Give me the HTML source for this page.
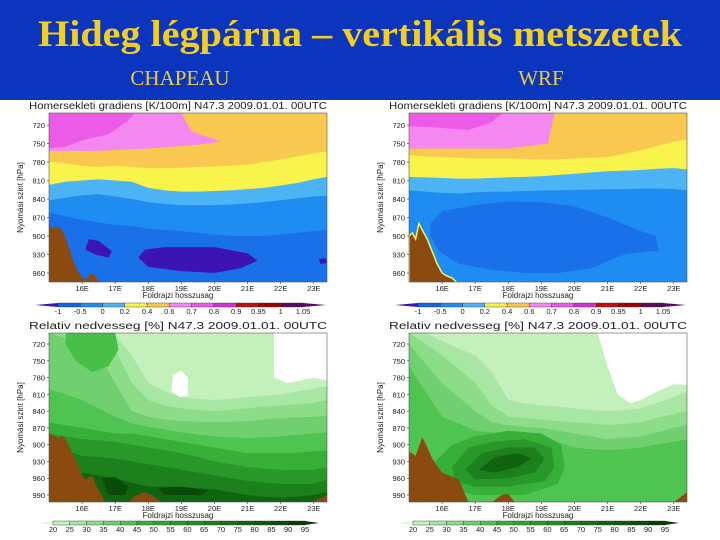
<!DOCTYPE html>
<html><head><meta charset="utf-8"><style>
body{margin:0;width:720px;height:540px;overflow:hidden;background:#fff;font-family:"Liberation Sans",sans-serif}
svg{display:block}
</style></head><body>
<svg id="s" width="720" height="540" xmlns="http://www.w3.org/2000/svg">
<rect x="0" y="0" width="720" height="100" fill="#0b35bd"/>
<text x="360" y="46" text-anchor="middle" font-family="Liberation Serif,serif" font-weight="bold" font-size="37" fill="#f2cf1e" textLength="644" lengthAdjust="spacingAndGlyphs">Hideg légpárna – vertikális metszetek</text>
<text x="180" y="85" text-anchor="middle" font-family="Liberation Serif,serif" font-size="21" fill="#e8cf3a">CHAPEAU</text>
<text x="541" y="85" text-anchor="middle" font-family="Liberation Serif,serif" font-size="21" fill="#e8cf3a">WRF</text>
</svg>
<script>
const lons=[15,15.5,16,16.5,17,17.5,18,18.5,19,19.5,20,20.5,21,21.5,22,22.5,23,23.4];
const tTicks=[720,750,780,810,840,870,900,930,960];
const rTicks=[720,750,780,810,840,870,900,930,960,990];
const lonTicks=["16E","17E","18E","19E","20E","21E","22E","23E"];
const lonTickVals=[16,17,18,19,20,21,22,23];
const tempLabels=["-1","-0.5","0","0.2","0.4","0.6","0.7","0.8","0.9","0.95","1","1.05"];
const rhLabels=["20","25","30","35","40","45","50","55","60","65","70","75","80","85","90","95"];
// CHAPEAU temperature gradient
const c1Yellow=[780,782,786,788,786,788,790,790,789,788,787,786,784,780,776,771,766,763];
const c1LBlue=[817,812,810,808,810,812,822,826,828,828,827,826,824,822,818,814,808,804];
const c1Blue=[842,838,834,832,836,840,845,848,850,850,850,849,847,845,842,839,836,835];
const c1DBlue=[862,868,874,878,882,884,888,890,892,895,898,900,900,900,898,895,892,890];
const c1PinkLon=[15,19.0,19.3,20.2,19.5,18,16.5,15];const c1PinkP=[700,700,730,747,752,758,762,762];
const c1MagLon=[15,17.6,17.4,16.8,16,15.5,15];const c1MagP=[700,700,712,735,745,755,758];
const c1Pur1Lon=[16.2,16.5,16.9,16.8,16.4,16.1];const c1Pur1P=[905,908,925,935,930,922];
const c1Pur2Lon=[17.9,18.5,20,21,21.3,20.8,20,19,18,17.7];const c1Pur2P=[922,918,918,928,940,952,960,957,950,935];
const c1Pur3Lon=[23.15,23.35,23.4,23.2];const c1Pur3P=[938,936,944,945];
const c1TerLon=[15,15.1,15.25,15.4,15.55,15.7,15.85,16.0,16.15,16.25,16.4,16.55,16.7];
const c1TerP=[882,888,885,890,910,935,955,968,970,960,965,978,978];
// WRF temperature gradient
const w1Yellow=[769,771,772,773,774,774,774,775,776,776,774,773,772,767,761,754,747,743];
const w1LBlue=[804,805,806,807,807,806,805,804,803,801,799,797,795,794,793,791,790,792];
const w1Blue=[826,828,830,831,829,828,828,827,826,826,825,825,824,824,823,823,824,826];
const w1PinkLon=[15,19.4,19.2,18,17.2,15];const w1PinkP=[700,700,750,758,758,758];
const w1MagLon=[15,17.85,17.5,16.8,15.8,15];const w1MagP=[700,700,715,728,724,722];
const w1DBLon=[15.65,16,17,18,19,20,21,22,22.45,22.55,22.2,21.5,20.5,19.5,18.5,17.5,16.5,15.9,15.65];
const w1DBP=[880,860,850,844,845,852,870,892,900,925,925,930,952,960,960,955,945,925,900];
const w1TerLon=[15,15.1,15.2,15.3,15.4,15.55,15.7,15.85,16.0,16.15,16.3,16.5];
const w1TerP=[900,895,905,880,890,905,925,945,960,965,968,978];
// CHAPEAU relative humidity
const c2L1=[700,700,700,702,705,740,790,805,815,818,820,818,815,812,810,805,800,795];
const c2L2=[700,702,705,715,730,790,820,830,835,838,840,838,835,832,830,828,825,820];
const c2L3=[700,710,720,740,790,840,850,855,858,859,860,859,858,855,852,851,850,848];
const c2L4=[800,810,820,835,850,862,868,873,878,882,885,887,888,887,885,882,880,878];
const c2L5=[860,865,870,875,880,880,885,890,895,900,905,910,915,915,915,914,912,910];
const c2L6=[880,885,890,892,895,900,905,910,915,922,930,935,940,943,945,945,945,940];
const c2L7=[900,910,920,922,925,930,935,940,945,950,955,960,965,968,970,970,970,962];
const c2L8=[960,955,950,955,960,968,975,975,975,978,980,985,990,993,995,993,990,985];
const c2DLLon=[15.5,17,17.1,16.8,16.3,15.8,15.5];const c2DLP=[700,700,730,760,770,750,720];
const c2D9aLon=[16.6,17.0,17.4,17.3,16.8];const c2D9aP=[960,958,975,990,990];
const c2D9bLon=[18.3,19.0,19.8,19.6,18.5];const c2D9bP=[978,975,982,990,990];
const c2WhiteLon=[21.8,23.4,23.4,23.0,22.2,21.8];const c2WhiteP=[700,700,785,780,790,780];
const c2BlobLon=[18.75,19.0,19.2,19.2,18.95,18.7];const c2BlobP=[775,768,780,812,815,805];
const c2TerLon=[15,15.3,15.4,15.5,15.8,16.0,16.1,16.3,16.5,16.7];
const c2TerP=[880,888,884,890,927,954,962,956,981,1003];
const c2Ter2Lon=[17.4,17.6,17.9,18.1,18.4];const c2Ter2P=[1003,992,985,990,1003];
const c2Ter3Lon=[22.9,23.2,23.4,23.4];const c2Ter3P=[1003,996,990,1003];
// WRF relative humidity
const w2L1=[700,700,715,728,740,770,820,826,830,832,835,838,840,838,835,825,815,805];
const w2L2=[700,720,740,765,790,830,850,852,855,858,860,862,865,863,860,852,845,840];
const w2L3=[720,755,790,815,840,860,865,868,870,875,880,885,890,888,885,878,870,865];
const w2L4=[760,805,850,862,875,878,880,882,885,895,905,908,910,908,905,900,895,890];
const w2WhiteLon=[20.7,23.4,23.4,23,22.5,22,21.7,21.3,21,20.8];const w2WhiteP=[700,700,793,792,805,820,826,810,760,720];
const w2B5Lon=[15.8,16.3,17,18,19,19.6,19.7,19.5,18.5,17,16];const w2B5P=[930,900,885,875,880,900,940,970,990,990,975];
const w2B6Lon=[16.3,16.8,17.5,18.5,19.3,19.4,19.1,18,17,16.4];const w2B6P=[940,905,895,890,905,940,965,975,975,965];
const w2B7Lon=[16.7,17.2,18,18.8,19.1,18.8,18,17];const w2B7P=[945,915,905,905,925,950,960,962];
const w2B8Lon=[17.1,17.6,18.3,18.7,18.3,17.6];const w2B8P=[945,922,915,925,940,950];
const w2TerLon=[15,15.2,15.4,15.5,15.7,16,16.5,16.8];const w2TerP=[912,920,887,898,925,950,962,1003];
const w2Ter2Lon=[17.5,17.8,18,18.2];const w2Ter2P=[1003,990,988,1003];
const w2Ter3Lon=[23,23.4,23.4];const w2Ter3P=[1003,985,1003];

const tempColors=["#3c14b4","#1464e6","#1e8cf0","#4cb4f4","#f8f44c","#f8c850","#f488f0","#ec5ae8","#d830d8","#c01010","#a00000","#5a0a5a","#5a0a5a"];
const rhColors=["#e4f8e0","#c4f0bc","#a8e6a4","#8cdc88","#70d070","#50c450","#38b038","#2ca82c","#289828","#209020","#1c801c","#187018","#106410","#0c5a0c","#0a4a0a","#083a08"];

const S=document.getElementById('s');const NS='http://www.w3.org/2000/svg';
function mk(tag,attrs,parent){const e=document.createElementNS(NS,tag);for(const k in attrs)e.setAttribute(k,attrs[k]);(parent||S).appendChild(e);return e;}
let clipN=0;
function makePanel(P){
  const g=mk('g',{});
  
  
  const xs=l=>P.x0+(l-15)*(P.x1-P.x0)/8.4;
  const ys=p=>P.y0+(p-P.pTop)*(P.y1-P.y0)/(P.pBot-P.pTop);
  const id='c'+(clipN++);
  const cp=mk('clipPath',{id:id},g);mk('rect',{x:P.x0,y:P.y0,width:P.x1-P.x0,height:P.y1-P.y0},cp);
  const pg=mk('g',{'clip-path':'url(#'+id+')'},g);
  const bg=mk('rect',{x:P.x0,y:P.y0,width:P.x1-P.x0,height:P.y1-P.y0,fill:P.bg},pg);
  
  
  P.layers.forEach(L=>{
    let pts;
    if(L.below){pts=lons.map((l,i)=>xs(l)+','+ys(L.below[i]));pts.push(xs(23.6)+','+(P.y1+5));pts.push(xs(14.8)+','+(P.y1+5));pts.unshift(xs(14.8)+','+ys(L.below[0]));pts.push(xs(14.8)+','+ys(L.below[0]));
      pts.splice(lons.length+1,0,xs(23.6)+','+ys(L.below[lons.length-1]));}
    else{pts=L.lon.map((l,i)=>xs(l)+','+ys(L.p[i]));}
    const e=mk('polygon',{points:pts.join(' '),fill:L.c},pg);
    if(L.stroke){e.setAttribute('stroke',L.stroke);e.setAttribute('stroke-width','1.5');}
    
    
  });
  mk('rect',{x:P.x0,y:P.y0,width:P.x1-P.x0,height:P.y1-P.y0,fill:'none',stroke:'#555','stroke-width':0.6},g);
  const t=mk('text',{x:(P.x0+P.x1)/2-10,y:P.y0-4,'text-anchor':'middle','font-size':10,fill:'#222',textLength:P.x1-P.x0+20,lengthAdjust:'spacingAndGlyphs'},g);
  t.textContent=P.title;
  
  
  P.ticks.forEach(v=>{const tt=mk('text',{x:P.x0-4,y:ys(v)+3,'text-anchor':'end','font-size':7.5,fill:'#222'},g);tt.textContent=v;
    
    
    mk('line',{x1:P.x0-2,x2:P.x0,y1:ys(v),y2:ys(v),stroke:'#333','stroke-width':0.6},g);});
  lonTickVals.forEach((v,i)=>{const tt=mk('text',{x:xs(v),y:P.y1+9,'text-anchor':'middle','font-size':7.5,fill:'#222'},g);tt.textContent=lonTicks[i];
    
    
    mk('line',{x1:xs(v),x2:xs(v),y1:P.y1,y2:P.y1+2,stroke:'#333','stroke-width':0.6},g);});
  const xl=mk('text',{x:(P.x0+P.x1)/2-10,y:P.y1+16,'text-anchor':'middle','font-size':8,fill:'#222'},g);xl.textContent='Foldrajzi hosszusag';
  
  
  const cy=(P.y0+P.y1)/2;
  const yl=mk('text',{x:P.x0-26,y:cy,'text-anchor':'middle','font-size':8,fill:'#222',transform:'rotate(-90 '+(P.x0-26)+' '+cy+')'},g);yl.textContent='Nyomási szint [hPa]';
  
  
  // colorbar
  const cb=P.cb;const n=cb.labels.length;const seg=(cb.x1-cb.x0)/(n-1+(cb.extra||0));
  const cg=mk('g',{},g);
  
  
  mk('polygon',{points:(cb.x0-cb.tri)+','+(cb.y+2)+' '+cb.x0+','+cb.y+' '+cb.x0+','+(cb.y+4),fill:cb.colors[0]},cg);
  const nseg=Math.round((cb.x1-cb.x0)/seg);
  for(let i=0;i<nseg;i++){mk('rect',{x:cb.x0+i*seg,y:cb.y,width:seg,height:4,fill:cb.colors[i+1]||cb.colors[cb.colors.length-1],stroke:'#333','stroke-width':0.4},cg);}
  mk('polygon',{points:cb.x1+','+cb.y+' '+(cb.x1+cb.tri)+','+(cb.y+2)+' '+cb.x1+','+(cb.y+4),fill:cb.colors[cb.colors.length-1]},cg);
  cb.labels.forEach((s,i)=>{const tt=mk('text',{x:cb.x0+i*seg,y:cb.y+11,'text-anchor':'middle','font-size':7.5,fill:'#222'},cg);tt.textContent=s;
    
    });
}
const TER='#8a4a10';
makePanel({name:'chapeau-temperature-gradient-panel',x0:49,x1:327,y0:113,y1:282,pTop:700.5,pBot:974.6,bg:'#f8c850',
 title:'Homersekleti gradiens [K/100m] N47.3 2009.01.01. 00UTC',ticks:tTicks,
 layers:[{lon:c1PinkLon,p:c1PinkP,c:'#f488f0',n:'pink-band'},{lon:c1MagLon,p:c1MagP,c:'#ec5ae8',n:'magenta-band'},
  {below:c1Yellow,c:'#f8f44c',n:'yellow-band'},{below:c1LBlue,c:'#4cb4f4',n:'light-blue-band'},{below:c1Blue,c:'#1e8cf0',n:'blue-band'},
  {below:c1DBlue,c:'#1a70e8',n:'dark-blue-band'},{lon:c1Pur1Lon,p:c1Pur1P,c:'#3c14b4',n:'purple-patch'},{lon:c1Pur2Lon,p:c1Pur2P,c:'#3c14b4',n:'purple-patch'},
  {lon:c1Pur3Lon,p:c1Pur3P,c:'#3c14b4',n:'purple-patch'},{lon:c1TerLon.concat([16.7,15]),p:c1TerP.concat([1000,1000]),c:TER,n:'terrain'}],
 cb:{x0:58,x1:303,y:303,tri:23,labels:tempLabels,colors:tempColors}});
makePanel({name:'wrf-temperature-gradient-panel',x0:409,x1:687,y0:113,y1:282,pTop:700.5,pBot:974.6,bg:'#f8c850',
 title:'Homersekleti gradiens [K/100m] N47.3 2009.01.01. 00UTC',ticks:tTicks,
 layers:[{lon:w1PinkLon,p:w1PinkP,c:'#f488f0',n:'pink-band'},{lon:w1MagLon,p:w1MagP,c:'#ec5ae8',n:'magenta-band'},
  {below:w1Yellow,c:'#f8f44c',n:'yellow-band'},{below:w1LBlue,c:'#4cb4f4',n:'light-blue-band'},{below:w1Blue,c:'#1e8cf0',n:'blue-band'},
  {lon:w1DBLon,p:w1DBP,c:'#1a70e8',n:'dark-blue-patch'},{lon:w1TerLon.concat([16.5,15]),p:w1TerP.concat([1000,1000]),c:TER,stroke:'#f8f44c',n:'terrain'}],
 cb:{x0:418,x1:663,y:303,tri:23,labels:tempLabels,colors:tempColors}});
const c2layers=[{below:c2L1,c:'#a8e6a4'},{below:c2L2,c:'#8cdc88'},{below:c2L3,c:'#70d070'},{lon:c2DLLon,p:c2DLP,c:'#48c048'},{below:c2L4,c:'#50c450'},{below:c2L5,c:'#38b038'},{below:c2L6,c:'#289828'},{below:c2L7,c:'#1c801c'},{below:c2L8,c:'#106410'}].map((o,i)=>Object.assign(o,{n:'humidity-band-'+(i+1)}));
makePanel({name:'chapeau-relative-humidity-panel',x0:49,x1:327,y0:333,y1:502,pTop:700.3,pBot:1002.5,bg:'#c4f0bc',
 title:'Relativ nedvesseg [%] N47.3 2009.01.01. 00UTC',ticks:rTicks,
 layers:c2layers.concat([{lon:c2D9aLon,p:c2D9aP,c:'#0a4a0a',n:'darkest-patch'},{lon:c2D9bLon,p:c2D9bP,c:'#0a4a0a',n:'darkest-patch'},
  {lon:c2WhiteLon,p:c2WhiteP,c:'#ffffff',n:'dry-region'},{lon:c2BlobLon,p:c2BlobP,c:'#ffffff',n:'dry-blob'},
  {lon:c2TerLon.concat([15]),p:c2TerP.concat([1010]),c:TER,n:'terrain'},{lon:c2Ter2Lon,p:c2Ter2P,c:TER,n:'terrain'},{lon:c2Ter3Lon,p:c2Ter3P,c:TER,n:'terrain'}]),
 cb:{x0:53,x1:305,y:521,tri:14,labels:rhLabels,colors:rhColors}});
const w2layers=[{below:w2L1,c:'#a8e6a4'},{below:w2L2,c:'#8cdc88'},{below:w2L3,c:'#70d070'},{below:w2L4,c:'#50c450'}].map((o,i)=>Object.assign(o,{n:'humidity-band-'+(i+1)}));
makePanel({name:'wrf-relative-humidity-panel',x0:409,x1:687,y0:333,y1:502,pTop:700.3,pBot:1002.5,bg:'#c4f0bc',
 title:'Relativ nedvesseg [%] N47.3 2009.01.01. 00UTC',ticks:rTicks,
 layers:w2layers.concat([{lon:w2WhiteLon,p:w2WhiteP,c:'#ffffff',n:'dry-region'},{lon:w2B5Lon,p:w2B5P,c:'#38b038',n:'moist-core-1'},{lon:w2B6Lon,p:w2B6P,c:'#289828',n:'moist-core-2'},
  {lon:w2B7Lon,p:w2B7P,c:'#1c801c',n:'moist-core-3'},{lon:w2B8Lon,p:w2B8P,c:'#106410',n:'moist-core-4'},
  {lon:w2TerLon.concat([15]),p:w2TerP.concat([1010]),c:TER,n:'terrain'},{lon:w2Ter2Lon,p:w2Ter2P,c:TER,n:'terrain'},{lon:w2Ter3Lon,p:w2Ter3P,c:TER,n:'terrain'}]),
 cb:{x0:413,x1:665,y:521,tri:14,labels:rhLabels,colors:rhColors}});
</script>
</body></html>
